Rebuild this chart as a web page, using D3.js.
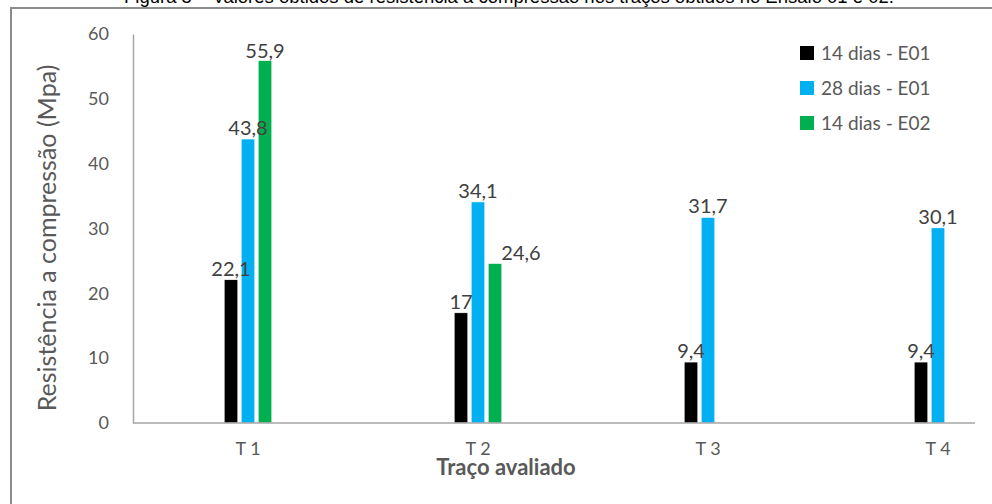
<!DOCTYPE html>
<html>
<head>
<meta charset="utf-8">
<script src="https://cdn.jsdelivr.net/npm/d3@7"></script>
<style>
  body { margin: 0; background: #fff; }
  text { font-family: Lato, "Open Sans", sans-serif; }
</style>
</head>
<body>
<div id="chart"></div>
<script>
// chart data
const categories = ["T 1", "T 2", "T 3", "T 4"];
const seriesNames = ["14 dias - E01", "28 dias - E01", "14 dias - E02"];
const dias14E01 = [22.1, 17, 9.4, 9.4];
const dias28E01 = [43.8, 34.1, 31.7, 30.1];
const dias14E02 = [55.9, 24.6, null, null];
const yTicks = [0, 10, 20, 30, 40, 50, 60];
const colors = ["#000000", "#00B0F0", "#00B050"];

const width = 992;
const height = 504;

var svg = d3.select("#chart").append("svg")
  .attr("width", width)
  .attr("height", height);

svg.append("rect")
  .attr("width", "100%")
  .attr("height", "100%")
  .attr("fill", "#fff");

// caption, mostly cut off by the top edge as in the original
svg.append("text")
  .attr("x", 509)
  .attr("y", 3)
  .attr("text-anchor", "middle")
  .style("font-family", "Liberation Sans, Arial, sans-serif")
  .style("font-size", "18.5px")
  .style("fill", "#000")
  .text("Figura 5 – Valores obtidos de resistência à compressão nos traços obtidos no Ensaio 01 e 02.");

// frame of the chart (right and bottom edges fall outside the picture)
svg.append("path")
  .attr("d", "M11,1000 L11,8 L1000,8")
  .attr("fill", "none")
  .attr("stroke", "#8c8c8c")
  .attr("stroke-width", 2);

var plot = { left: 133, top: 34, bottom: 423, axisEnd: 975 };

var x = d3.scaleBand()
  .domain(categories)
  .range([plot.left, plot.left + 920]);

var xs = d3.scaleBand()
  .domain(seriesNames)
  .range([-25.5, 25.5])
  .paddingInner(0.2)
  .paddingOuter(0.1);

var y = d3.scaleLinear()
  .domain([0, 60])
  .range([plot.bottom, plot.top]);

var rows = [];
[dias14E01, dias28E01, dias14E02].forEach((vals, s) => {
  vals.forEach((v, i) => {
    if (v != null) rows.push({ cat: categories[i], name: seriesNames[s], s: s, v: v });
  });
});

// y axis
var yAxis = svg.append("g")
  .attr("transform", "translate(" + plot.left + ",0)")
  .call(d3.axisLeft(y).tickValues(yTicks).tickSize(0).tickPadding(24));
yAxis.select(".domain").attr("stroke", "#a6a6a6").attr("stroke-width", 1.5);
yAxis.selectAll("text")
  .style("font-size", "18px")
  .style("fill", "#595959");

// bars
svg.append("g").selectAll("rect")
  .data(rows)
  .enter()
  .append("rect")
  .attr("x", d => x(d.cat) + x.bandwidth() / 2 + xs(d.name))
  .attr("y", d => y(d.v))
  .attr("width", xs.bandwidth())
  .attr("height", d => y(0) - y(d.v))
  .attr("fill", d => colors[d.s])
  .attr("stroke", "#fff")
  .attr("stroke-width", 0.6);

// x axis
var xAxis = svg.append("g")
  .attr("transform", "translate(0," + plot.bottom + ")")
  .call(d3.axisBottom(x).tickSize(0).tickPadding(19));
xAxis.select(".domain").remove();
xAxis.selectAll("text")
  .style("font-size", "18px")
  .style("fill", "#595959");
svg.append("line")
  .attr("x1", plot.left)
  .attr("x2", plot.axisEnd)
  .attr("y1", plot.bottom)
  .attr("y2", plot.bottom)
  .attr("stroke", "#a6a6a6")
  .attr("stroke-width", 1.5);

// value labels (the 24,6 label was moved aside in the original)
const labelShift = { "T 2|14 dias - E02": 26 };
svg.append("g").selectAll("text")
  .data(rows)
  .enter()
  .append("text")
  .attr("x", d => x(d.cat) + x.bandwidth() / 2 + xs(d.name) + xs.bandwidth() / 2 + (labelShift[d.cat + "|" + d.name] || 0))
  .attr("y", d => Math.max(y(d.v) - 4, 58))
  .attr("text-anchor", "middle")
  .style("font-size", "20px")
  .style("fill", "#404040")
  .text(d => String(d.v).replace(".", ","));

// axis titles
svg.append("text")
  .attr("transform", "translate(56,238) rotate(-90)")
  .attr("text-anchor", "middle")
  .style("font-size", "25px")
  .style("fill", "#595959")
  .text("Resistência a compressão (Mpa)");

svg.append("text")
  .attr("x", 506)
  .attr("y", 475)
  .attr("text-anchor", "middle")
  .style("font-size", "22px")
  .style("font-weight", "bold")
  .style("fill", "#595959")
  .text("Traço avaliado");

// legend
var legend = svg.append("g").selectAll("g")
  .data(seriesNames)
  .enter()
  .append("g")
  .attr("transform", (d, i) => "translate(800," + (53 + i * 35) + ")");
legend.append("rect")
  .attr("x", 0)
  .attr("y", -7)
  .attr("width", 14)
  .attr("height", 14)
  .attr("fill", (d, i) => colors[i]);
legend.append("text")
  .attr("x", 21)
  .attr("y", 7)
  .style("font-size", "19px")
  .style("fill", "#595959")
  .text(d => d);
</script>
</body>
</html>
